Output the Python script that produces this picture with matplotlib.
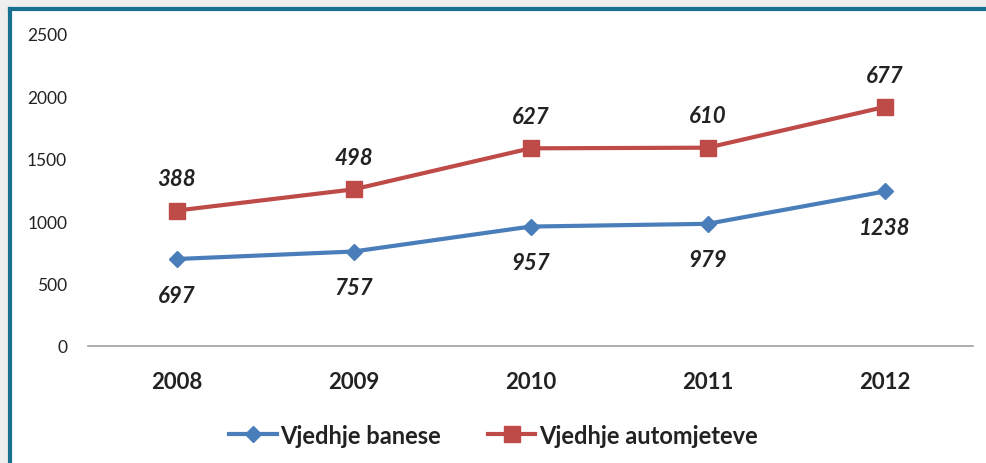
import matplotlib.pyplot as plt
from matplotlib.patches import Rectangle
from matplotlib.lines import Line2D

years = ["2008", "2009", "2010", "2011", "2012"]
banese = [697, 757, 957, 979, 1238]
automjete = [388, 498, 627, 610, 677]
yticks = [0, 500, 1000, 1500, 2000, 2500]

stacked = [b + a for b, a in zip(banese, automjete)]

plt.rcParams['font.family'] = ['Lato', 'DejaVu Sans']

fig = plt.figure(figsize=(9.87, 4.64), dpi=100)
fig.patch.set_facecolor('#eeeeee')
# white panel with teal left/top border
fig.add_artist(Rectangle((10/987, 0), 1, 1 - 10/464, transform=fig.transFigure,
                         facecolor='white', edgecolor='none', zorder=0))
fig.add_artist(Line2D([10/987, 10/987], [0, 1 - 10/464], transform=fig.transFigure,
                      color='#17708f', lw=3, zorder=1))
fig.add_artist(Line2D([10/987, 1], [1 - 10/464, 1 - 10/464], transform=fig.transFigure,
                      color='#17708f', lw=3, zorder=1))

ax = fig.add_axes([88/987, 1 - 347/464, (973 - 88)/987, (347 - 35)/464])
ax.set_facecolor('none')
x = list(range(len(years)))
blue = '#4a7ebb'
red = '#be4b48'
ax.plot(x, banese, color=blue, lw=3, marker='D', ms=8.5, label='Vjedhje banese', zorder=3)
ax.plot(x, stacked, color=red, lw=3, marker='s', ms=12, label='Vjedhje automjeteve', zorder=3)

for xi, v in zip(x, banese):
    ax.annotate(str(v), (xi, v), xytext=(0, -26), textcoords='offset points',
                ha='center', va='center', fontsize=16, fontweight='bold', style='italic',
                color='#222222')
for xi, v, s in zip(x, automjete, stacked):
    ax.annotate(str(v), (xi, s), xytext=(0, 23), textcoords='offset points',
                ha='center', va='center', fontsize=16, fontweight='bold', style='italic',
                color='#222222')

ax.set_xlim(-0.5, 4.5)
ax.set_ylim(0, 2500)
ax.set_yticks(yticks)
ax.set_yticklabels([str(t) for t in yticks], fontsize=12.5, color='#222222')
ax.set_xticks(x)
ax.set_xticklabels(years, fontsize=16, fontweight='bold', color='#222222')
ax.tick_params(axis='both', length=0)
ax.tick_params(axis='y', pad=15)
ax.tick_params(axis='x', pad=18)
for s in ['top', 'right', 'left']:
    ax.spines[s].set_visible(False)
ax.spines['bottom'].set_color('#a0a0a0')
ax.spines['bottom'].set_linewidth(1.2)

leg = fig.legend(loc='center', bbox_to_anchor=(0.5, 1 - 436/464), ncol=2, frameon=False,
                 prop={'size': 17, 'weight': 'bold'}, handlelength=2.0, handletextpad=0.15,
                 columnspacing=2.0)
for t in leg.get_texts():
    t.set_color('#222222')

fig.savefig('out.png', dpi=100, facecolor=fig.get_facecolor())
